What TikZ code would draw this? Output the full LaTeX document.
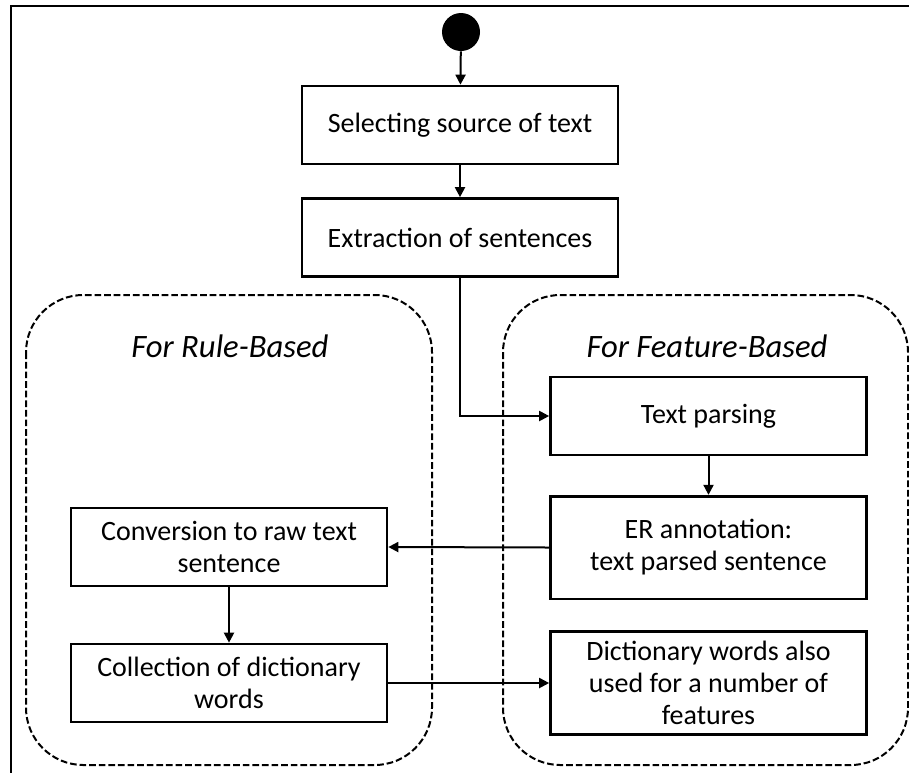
\documentclass[tikz,border=0pt]{standalone}
\usepackage{fontspec}
\setmainfont{Carlito}
\usetikzlibrary{arrows.meta}
\begin{document}
\begin{tikzpicture}[x=0.75pt,y=-0.75pt,
  stepbox/.style={draw,line width=2pt,minimum width=237pt,minimum height=58.5pt,
    inner sep=0pt,align=center,font=\fontsize{21}{24}\selectfont},
  tallbox/.style={stepbox,minimum height=77pt},
  arr/.style={line width=1.5pt,-{Triangle[length=7.5pt,width=7.5pt]}},
  group/.style={draw,line width=1.5pt,dash pattern=on 5pt off 2.2pt,rounded corners=43pt},
  grouptitle/.style={font=\fontsize{24.5}{28}\selectfont\itshape}]
\useasboundingbox (0,0) rectangle (909,772);
% outer frame
\draw[line width=1.5pt] (11,6) rectangle (930,790);

% two dashed groups
\draw[group] (26,295) rectangle (432,765);
\draw[group] (503,295) rectangle (908,765);
\node[grouptitle] (trule) at (230,346) {For Rule-Based};
\node[grouptitle] (tfeat) at (707,346) {For Feature-Based};

% start point
\node[circle,fill=black,minimum size=28.5pt,inner sep=0pt] (start) at (461,32) {};

% main steps
\node[stepbox] (sel) at (460,125) {Selecting source of text};
\node[stepbox] (ext) at (460,237.5) {Extraction of sentences};
\node[stepbox] (tp) at (708.5,416) {Text parsing};
\node[tallbox] (er) at (708.5,547.5) {ER annotation:\\text parsed sentence};
\node[stepbox] (conv) at (229,547) {Conversion to raw text\\sentence};
\node[stepbox] (coll) at (229,683) {Collection of dictionary\\words};
\node[tallbox] (dict) at (708.5,683) {Dictionary words also\\used for a number of\\features};

% connectors
\draw[arr] (start) -- (sel);
\draw[arr] (sel) -- (ext);
\draw[arr] (ext.south) |- (tp.west);
\draw[arr] (tp) -- (er);
\draw[arr] (er.west) -- (conv.east);
\draw[arr] (conv) -- (coll);
\draw[arr] (coll.east) -- (dict.west);
\end{tikzpicture}
\end{document}
